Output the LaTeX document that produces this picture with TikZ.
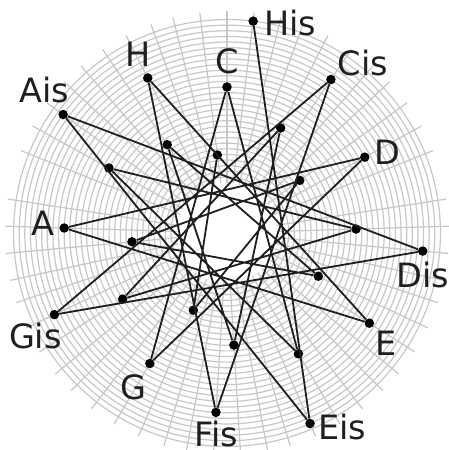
\documentclass[tikz,border=0pt]{standalone}
\usepackage{fontspec}
\setmainfont{DejaVu Sans}
\usepackage{tikz}
\usetikzlibrary{positioning}

\begin{document}
\begin{tikzpicture}[
  x=1pt, y=1pt,
  dot/.style={circle, fill=black, inner sep=0pt, minimum size=9.5pt},
  tone/.style={font=\fontsize{33.5}{40}\selectfont, inner sep=0pt, text=black!88},
  link/.style={line width=1.8pt, black!88},
  gridline/.style={line width=1.2pt, black!22}
]
\useasboundingbox (-227,-217) rectangle (222,233);

% polar grid behind the spiral
\foreach \k in {-16,...,12}
  \draw[gridline] (0,0) circle ({146+5.62*\k});
\foreach \k in {-25,...,25}
  \draw[gridline] ({90-210.5865*\k}:50) -- ({90-210.5865*\k}:222);

% spiral of fifths, upper part (labelled)
\node[dot] (c)   at (90:146)       {};
\node[dot] (g)   at (-120.59:151.62) {};
\node[dot] (d)   at (28.83:157.24)  {};
\node[dot] (a)   at (178.24:162.86) {};
\node[dot] (e)   at (-32.35:168.48) {};
\node[dot] (h)   at (117.07:174.10) {};
\node[dot] (fis) at (-93.52:179.72) {};
\node[dot] (cis) at (55.89:185.34)  {};
\node[dot] (gis) at (-154.69:190.96) {};
\node[dot] (dis) at (-5.28:196.58)  {};
\node[dot] (ais) at (144.13:202.20) {};
\node[dot] (eis) at (-66.45:207.82) {};
\node[dot] (his) at (82.96:213.44)  {};

% spiral of fifths, lower part
\node[dot] (f)     at (-59.41:140.38)  {};
\node[dot] (b)     at (151.17:134.76)  {};
\node[dot] (es)    at (1.76:129.14)    {};
\node[dot] (as)    at (-147.65:123.52) {};
\node[dot] (des)   at (62.93:117.90)   {};
\node[dot] (ges)   at (-86.48:112.28)  {};
\node[dot] (ces)   at (124.11:106.66)  {};
\node[dot] (fes)   at (-25.31:101.04)  {};
\node[dot] (heses) at (-174.72:95.42)  {};
\node[dot] (eses)  at (35.87:89.80)    {};
\node[dot] (ases)  at (-113.55:84.18)  {};
\node[dot] (deses) at (97.04:78.56)    {};

\draw[link] (deses) -- (ases) -- (eses) -- (heses) -- (fes) -- (ces)
  -- (ges) -- (des) -- (as) -- (es) -- (b) -- (f) -- (c) -- (g) -- (d)
  -- (a) -- (e) -- (h) -- (fis) -- (cis) -- (gis) -- (dis) -- (ais)
  -- (eis) -- (his);

\node[tone, above=8pt of c] {C};
\node[tone, below=6pt of g, xshift=-16pt] {G};
\node[tone, right=5pt of d, yshift=5pt] {D};
\node[tone, left=5pt of a, yshift=5pt] {A};
\node[tone, below right=4pt and 2pt of e] {E};
\node[tone, above=6pt of h, xshift=-10pt] {H};
\node[tone, below=4pt of fis] {Fis};
\node[tone, above right=0pt and 3pt of cis] {Cis};
\node[tone, below=3pt of gis, xshift=-19pt] {Gis};
\node[tone, below=6pt of dis] {Dis};
\node[tone, above=6pt of ais, xshift=-19pt] {Ais};
\node[tone, right=3pt of eis, yshift=-4pt] {Eis};
\node[tone, right=6pt of his, yshift=-2pt] {His};

\end{tikzpicture}
\end{document}
